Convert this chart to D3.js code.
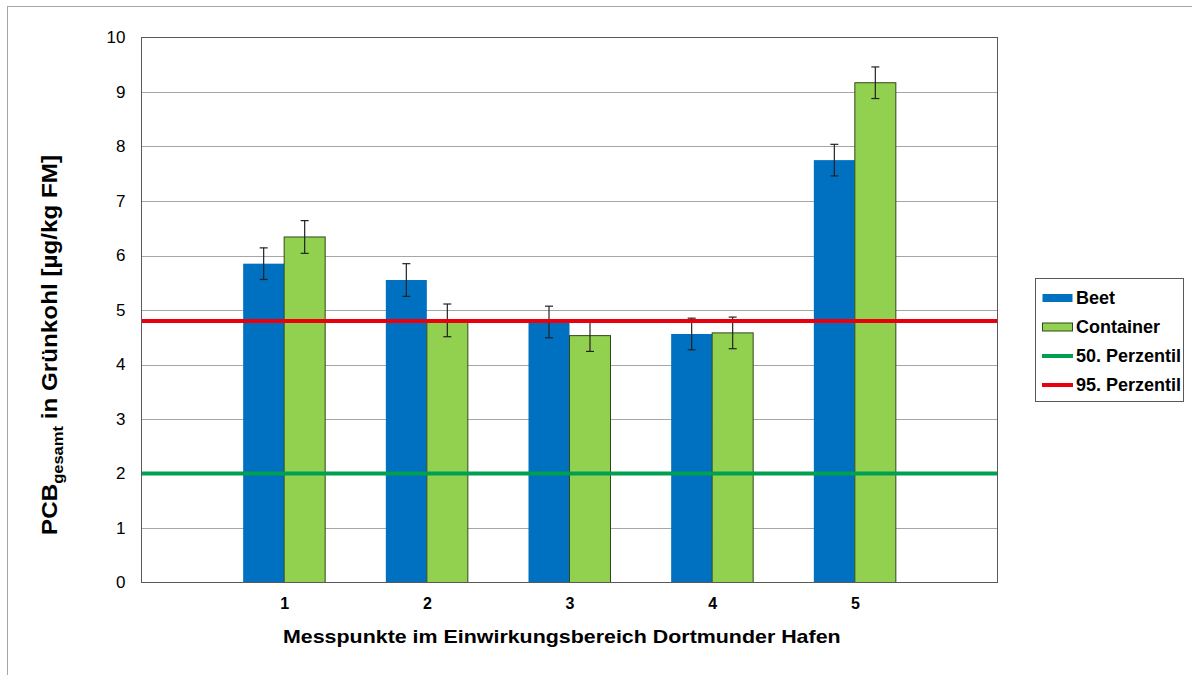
<!DOCTYPE html>
<html>
<head>
<meta charset="utf-8">
<script src="https://cdn.jsdelivr.net/npm/d3@7"></script>
<style>
  html, body { margin: 0; padding: 0; background: #fff; }
  svg { display: block; font-family: Arial, "Liberation Sans", sans-serif; }
</style>
</head>
<body>
<svg id="chart" width="1192" height="675"></svg>
<script>
// Measuring points and PCB totals in kale (µg/kg fresh mass)
const points = [1, 2, 3, 4, 5];
const beet = [5.85, 5.55, 4.78, 4.56, 7.75];
const beetErr = [0.29, 0.30, 0.29, 0.29, 0.29];
const container = [6.34, 4.81, 4.53, 4.58, 9.17];
const containerErr = [0.30, 0.30, 0.29, 0.29, 0.29];
const perc50 = 2.0;
const perc95 = 4.8;
const yTicks = [0, 1, 2, 3, 4, 5, 6, 7, 8, 9, 10];

const colors = { beet: "#0070C0", container: "#92D050", p50: "#00A050", p95: "#E8000E" };

const svg = d3.select("#chart");
const W = 1192, H = 675;
const plot = { left: 141.5, right: 997.5, top: 37.5, bottom: 582.5 };

// Outer chart frame
svg.append("rect")
  .attr("x", 7.5).attr("y", 6.5)
  .attr("width", W + 20).attr("height", H + 20)
  .attr("fill", "#fff").attr("stroke", "#a6a6a6").attr("stroke-width", 1);

const x = d3.scaleLinear().domain([0, 6]).range([plot.left, plot.right]);
const y = d3.scaleLinear().domain([0, 10]).range([plot.bottom, plot.top]);
const barW = 41;

// Horizontal gridlines
svg.append("g")
  .selectAll("line")
  .data(yTicks.filter(d => d > 0 && d < 10))
  .join("line")
  .attr("x1", plot.left).attr("x2", plot.right)
  .attr("y1", d => Math.round(y(d)) + 0.5).attr("y2", d => Math.round(y(d)) + 0.5)
  .attr("stroke", "#a6a6a6").attr("stroke-width", 1);

// Y axis labels
const yAxis = d3.axisLeft(y).tickValues(yTicks).tickSize(0).tickPadding(16);
const gy = svg.append("g").attr("transform", `translate(${plot.left},0)`).call(yAxis);
gy.select(".domain").remove();
gy.selectAll("text").attr("font-size", 17).attr("fill", "#000")
  .attr("font-family", "Arial, 'Liberation Sans', sans-serif");

// X axis labels
const xAxis = d3.axisBottom(x).tickValues(points).tickFormat(d3.format("d")).tickSize(0).tickPadding(15);
const gx = svg.append("g").attr("transform", `translate(0,${plot.bottom})`).call(xAxis);
gx.select(".domain").remove();
gx.selectAll("text").attr("font-size", 16).attr("font-weight", "bold").attr("fill", "#000")
  .attr("font-family", "Arial, 'Liberation Sans', sans-serif");

// Bars
const bars = svg.append("g");
bars.selectAll("rect.beet")
  .data(points)
  .join("rect").attr("class", "beet")
  .attr("x", (d) => x(d) - barW)
  .attr("y", (d, i) => y(beet[i]))
  .attr("width", barW)
  .attr("height", (d, i) => y(0) - y(beet[i]))
  .attr("fill", colors.beet);
bars.selectAll("rect.cont")
  .data(points)
  .join("rect").attr("class", "cont")
  .attr("x", (d) => x(d))
  .attr("y", (d, i) => y(container[i]))
  .attr("width", barW)
  .attr("height", (d, i) => y(0) - y(container[i]))
  .attr("fill", colors.container)
  .attr("stroke", "#2f4a1a").attr("stroke-width", 1);

// Error bars
function errBars(vals, errs, cx) {
  const g = svg.append("g").attr("stroke", "#222").attr("stroke-width", 1.2);
  points.forEach((p, i) => {
    const xc = cx(p);
    const t = y(vals[i] + errs[i]), b = y(vals[i] - errs[i]);
    g.append("line").attr("x1", xc).attr("x2", xc).attr("y1", t).attr("y2", b);
    g.append("line").attr("x1", xc - 4).attr("x2", xc + 4).attr("y1", t).attr("y2", t);
    g.append("line").attr("x1", xc - 4).attr("x2", xc + 4).attr("y1", b).attr("y2", b);
  });
}
errBars(beet, beetErr, p => x(p) - barW / 2);
errBars(container, containerErr, p => x(p) + barW / 2);

// Percentile reference lines
svg.append("line")
  .attr("x1", plot.left).attr("x2", plot.right)
  .attr("y1", y(perc50)).attr("y2", y(perc50))
  .attr("stroke", colors.p50).attr("stroke-width", 4);
svg.append("line")
  .attr("x1", plot.left).attr("x2", plot.right)
  .attr("y1", y(perc95)).attr("y2", y(perc95))
  .attr("stroke", colors.p95).attr("stroke-width", 4);

// Plot area border
svg.append("rect")
  .attr("x", plot.left).attr("y", plot.top)
  .attr("width", plot.right - plot.left).attr("height", plot.bottom - plot.top)
  .attr("fill", "none").attr("stroke", "#595959").attr("stroke-width", 1);

// X axis title, widened horizontally to span 283..841
const xTitleG = svg.append("g");
const xTitle = xTitleG.append("text")
  .attr("x", 0).attr("y", 0)
  .attr("font-size", 18).attr("font-weight", "bold")
  .text("Messpunkte im Einwirkungsbereich Dortmunder Hafen");
const natural = xTitle.node().getComputedTextLength();
xTitleG.attr("transform", `translate(283,643) scale(${558 / natural},1)`);

// Y axis title
const yt = svg.append("text")
  .attr("transform", "translate(57,535) rotate(-90)")
  .attr("font-size", 22).attr("font-weight", "bold")
  .attr("textLength", 380).attr("lengthAdjust", "spacingAndGlyphs");
yt.append("tspan").text("PCB");
yt.append("tspan").attr("font-size", 15).attr("dy", 6).text("gesamt");
yt.append("tspan").attr("dy", -6).text(" in Grünkohl [µg/kg FM]");

// Legend
const legend = svg.append("g");
legend.append("rect")
  .attr("x", 1035.5).attr("y", 278.5).attr("width", 148).attr("height", 123)
  .attr("fill", "#fff").attr("stroke", "#595959").attr("stroke-width", 1);
const items = [
  { label: "Beet", type: "bar", color: colors.beet, stroke: "none" },
  { label: "Container", type: "bar", color: colors.container, stroke: "#2f4a1a" },
  { label: "50. Perzentil", type: "line", color: colors.p50 },
  { label: "95. Perzentil", type: "line", color: colors.p95 }
];
items.forEach((it, i) => {
  const cy = 298 + i * 29;
  if (it.type === "bar") {
    legend.append("rect").attr("x", 1042.5).attr("y", cy - 4).attr("width", 30).attr("height", 8)
      .attr("fill", it.color).attr("stroke", it.stroke).attr("stroke-width", 1);
  } else {
    legend.append("line").attr("x1", 1042).attr("x2", 1073).attr("y1", cy).attr("y2", cy)
      .attr("stroke", it.color).attr("stroke-width", 4);
  }
  legend.append("text").attr("x", 1076).attr("y", cy + 6)
    .attr("font-size", 18).attr("font-weight", "bold").text(it.label);
});
</script>
</body>
</html>
